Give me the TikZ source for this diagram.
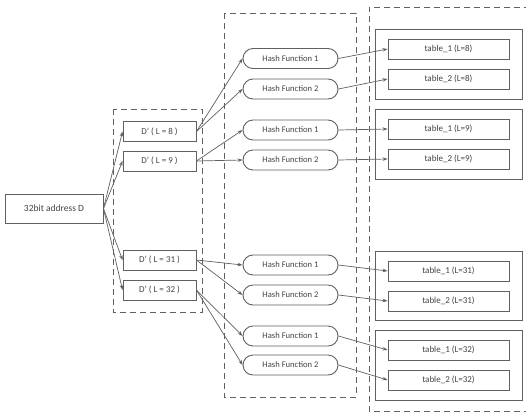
\documentclass[tikz,border=0pt]{standalone}
\usepackage{fontspec}
\setmainfont{Carlito}
\usetikzlibrary{arrows.meta}
\definecolor{ln}{HTML}{606060}
\definecolor{tx}{HTML}{444444}
\begin{document}
\begin{tikzpicture}[x=1pt,y=-1pt,
  box/.style={draw=ln,line width=0.9pt,minimum height=20pt,inner sep=0pt,font=\fontsize{8.6}{10}\selectfont,text=tx},
  dbox/.style={box,minimum width=73pt,font=\fontsize{9}{10}\selectfont},
  hbox/.style={box,minimum width=95pt,rounded corners=10pt},
  tbox/.style={box,minimum width=121pt,font=\fontsize{9}{10}\selectfont},
  grp/.style={draw=ln,line width=0.9pt},
  dsh/.style={draw=ln,line width=0.8pt,dash pattern=on 6pt off 4pt},
  arr/.style={draw=ln,line width=0.7pt,-{Stealth[length=5pt,width=3.5pt]}}]
\useasboundingbox[fill=white] (0,0) rectangle (526,413);
% dashed groups
\draw[dsh] (113,109) rectangle (202,312);
\draw[dsh] (224,13) rectangle (356,397);
\draw[dsh] (530,7) -- (369,7) -- (369,411) -- (530,411);
% table groups
\draw[grp] (375,29) rectangle (522,99);
\draw[grp] (375,109) rectangle (522,179);
\draw[grp] (375,251) rectangle (522,320);
\draw[grp] (375,330) rectangle (522,400);
% source
\node[box,minimum width=98pt,minimum height=29pt,font=\fontsize{9.5}{11}\selectfont] (src) at (54,208.5) {32bit address D};
% D' nodes
\node[dbox] (d8) at (159.5,131.5) {D' ( L = 8 )};
\node[dbox] (d9) at (159.5,161) {D' ( L = 9 )};
\node[dbox] (d31) at (159.5,260) {D' ( L = 31 )};
\node[dbox] (d32) at (159.5,290) {D' ( L = 32 )};
% hash nodes
\node[hbox] (h81) at (290.5,58.5) {Hash Function 1};
\node[hbox] (h82) at (290.5,89) {Hash Function 2};
\node[hbox] (h91) at (290.5,130) {Hash Function 1};
\node[hbox] (h92) at (290.5,160) {Hash Function 2};
\node[hbox] (h311) at (290.5,265) {Hash Function 1};
\node[hbox] (h312) at (290.5,295) {Hash Function 2};
\node[hbox] (h321) at (290.5,336) {Hash Function 1};
\node[hbox] (h322) at (290.5,365) {Hash Function 2};
% tables
\node[tbox] (t81) at (448.5,49) {table\_1 (L=8)};
\node[tbox] (t82) at (448.5,79) {table\_2 (L=8)};
\node[tbox] (t91) at (448.5,129) {table\_1 (L=9)};
\node[tbox] (t92) at (448.5,159) {table\_2 (L=9)};
\node[tbox] (t311) at (448.5,271) {table\_1 (L=31)};
\node[tbox] (t312) at (448.5,301) {table\_2 (L=31)};
\node[tbox] (t321) at (448.5,350) {table\_1 (L=32)};
\node[tbox] (t322) at (448.5,380) {table\_2 (L=32)};
% arrows source -> D'
\foreach \n in {d8,d9,d31,d32}{\draw[arr] (src.east) -- (\n.west);}
% D' -> hash
\draw[arr] (d8.east) -- (h81.west);
\draw[arr] (d8.east) -- (h82.west);
\draw[arr] (d9.east) -- (h91.west);
\draw[arr] (d9.east) -- (h92.west);
\draw[arr] (d31.east) -- (h311.west);
\draw[arr] (d31.east) -- (h312.west);
\draw[arr] (d32.east) -- (h321.west);
\draw[arr] (d32.east) -- (h322.west);
% hash -> table
\draw[arr] (h81.east) -- (t81.west);
\draw[arr] (h82.east) -- (t82.west);
\draw[arr] (h91.east) -- (t91.west);
\draw[arr] (h92.east) -- (t92.west);
\draw[arr] (h311.east) -- (t311.west);
\draw[arr] (h312.east) -- (t312.west);
\draw[arr] (h321.east) -- (t321.west);
\draw[arr] (h322.east) -- (t322.west);
\end{tikzpicture}
\end{document}
